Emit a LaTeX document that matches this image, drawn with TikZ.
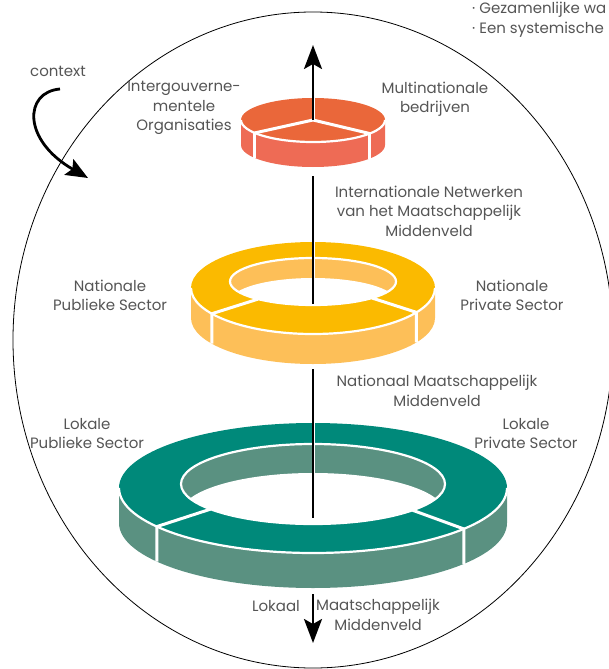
\documentclass[tikz,border=0pt]{standalone}
\usepackage{fontspec}
\setmainfont{Poppins}
\usepackage{tikz}
\usetikzlibrary{arrows.meta, calc}

\begin{document}
\begin{tikzpicture}[x=1pt, y=-1pt,
        divider/.style={white, line width=3pt},
        rim/.style={white, line width=2.2pt},
        axisline/.style={black, line width=2.6pt},
        bigtip/.style={-{Stealth[length=24pt, width=18pt, inset=5pt]}},
        lbl/.style={text=textgrey, align=center, inner sep=0pt, font=\fontsize{15}{19.5}\selectfont}]
        \definecolor{tealtop}{HTML}{00897A}
        \definecolor{tealside}{HTML}{5A9181}
        \definecolor{yellowtop}{HTML}{FBBA00}
        \definecolor{yellowside}{HTML}{FDBF58}
        \definecolor{redtop}{HTML}{EA673A}
        \definecolor{redside}{HTML}{EE6B55}
        \definecolor{textgrey}{HTML}{555555}
        \useasboundingbox (0,0) rectangle (608,669);

        % context
        \draw[line width=0.8pt] (313,340) ellipse[x radius=300, y radius=328];
        \node[lbl] (context) at (58,71) {context};
        \coordinate (ctxStart) at (60,89);
        \coordinate (ctxEnd) at (88,178);
        \draw[line width=2.8pt, -{Stealth[length=22pt, width=18pt, inset=4pt]}] (ctxStart) .. controls (24,92) and (22,140) .. (ctxEnd);

        % lokaal ring
        \begin{scope}[shift={(313,488)}]
            \fill[tealside] (-194,0) -- (-194,35) arc[start angle=180, end angle=0, x radius=194, y radius=65] -- (194,0) -- cycle;
            \fill[tealtop] (0,0) ellipse[x radius=194, y radius=65];
            \begin{scope}
                \clip (0,-4) ellipse[x radius=132, y radius=40];
                \fill[tealside] (0,-4) ellipse[x radius=132, y radius=40];
                \fill[white] (0,25) ellipse[x radius=132, y radius=40];
            \end{scope}
            \draw[rim] (0,-4) ellipse[x radius=132, y radius=40];
            \draw[rim] (-194,0) arc[start angle=180, end angle=0, x radius=194, y radius=65];
            \draw[divider] (0,-65) -- (0,-15);
            \draw[divider] ($(0,-4)+(141:132 and 40)$) -- (143.6:194 and 65) -- ++(0,35);
            \draw[divider] ($(0,-4)+(41:132 and 40)$) -- (39:194 and 65) -- ++(0,35);
        \end{scope}

        % nationaal ring
        \begin{scope}[shift={(313,288)}]
            \fill[yellowside] (-122,0) -- (-122,30) arc[start angle=180, end angle=0, x radius=122, y radius=46] -- (122,0) -- cycle;
            \fill[yellowtop] (0,0) ellipse[x radius=122, y radius=46];
            \begin{scope}
                \clip (0,-6.5) ellipse[x radius=83, y radius=23.5];
                \fill[yellowside] (0,-6.5) ellipse[x radius=83, y radius=23.5];
                \fill[white] (0,13.5) ellipse[x radius=83, y radius=23.5];
            \end{scope}
            \draw[rim] (0,-6.5) ellipse[x radius=83, y radius=23.5];
            \draw[rim] (-122,0) arc[start angle=180, end angle=0, x radius=122, y radius=46];
            \draw[divider] (0,-46) -- (0,-10);
            \draw[divider] ($(0,-6.5)+(131.5:83 and 23.5)$) -- (146:122 and 46) -- ++(0,30);
            \draw[divider] ($(0,-6.5)+(44.7:83 and 23.5)$) -- (32:122 and 46) -- ++(0,30);
        \end{scope}

        % internationaal pie
        \begin{scope}[shift={(313,120)}]
            \fill[redside] (-72,0) -- (-72,25) arc[start angle=180, end angle=0, x radius=72, y radius=22] -- (72,0) -- cycle;
            \fill[redtop] (0,0) ellipse[x radius=72, y radius=22];
            \draw[rim] (-72,0) arc[start angle=180, end angle=0, x radius=72, y radius=22];
            \draw[divider] (144:72 and 22) -- (0,0) -- (38:72 and 22);
            \draw[divider] (0,0) -- (0,-22);
            \draw[divider] (144:72 and 22) -- ++(0,25);
            \draw[divider] (38:72 and 22) -- ++(0,25);
        \end{scope}

        % axis
        \coordinate (tipTop) at (313,45);
        \coordinate (pieHub) at (313,120);
        \coordinate (pieBelow) at (313,176);
        \coordinate (yellowHub) at (313,304);
        \coordinate (yellowBelow) at (313,369);
        \coordinate (tealHub) at (313,518);
        \coordinate (tealBelow) at (313,594);
        \coordinate (tipBottom) at (313,643);
        \draw[axisline, bigtip] (pieHub) -- (tipTop);
        \draw[axisline] (pieBelow) -- (yellowHub);
        \draw[axisline] (yellowBelow) -- (tealHub);
        \draw[axisline, bigtip] (tealBelow) -- (tipBottom);

        % labels
        \node[lbl] (igo) at (184,108) {Intergouverne-\\mentele\\Organisaties};
        \node[lbl] (multi) at (435,99) {Multinationale\\bedrijven};
        \node[lbl] (intNet) at (429,211) {Internationale Netwerken\\van het Maatschappelijk\\Middenveld};
        \node[lbl] (natPub) at (110,295.5) {Nationale\\Publieke Sector};
        \node[lbl] (natPriv) at (512,295.5) {Nationale\\Private Sector};
        \node[lbl] (natMid) at (437,391) {Nationaal Maatschappelijk\\Middenveld};
        \node[lbl] (lokPub) at (87,433.5) {Lokale\\Publieke Sector};
        \node[lbl] (lokPriv) at (526,433.5) {Lokale\\Private Sector};
        \node[lbl] (lokaal) at (276,606) {Lokaal};
        \node[lbl] (lokMid) at (378,615) {Maatschappelijk\\Middenveld};
        \node[lbl, align=left, anchor=west] (extra) at (472,19.5) {· Gezamenlijke wa\\· Een systemische};
    \end{tikzpicture}
\end{document}
